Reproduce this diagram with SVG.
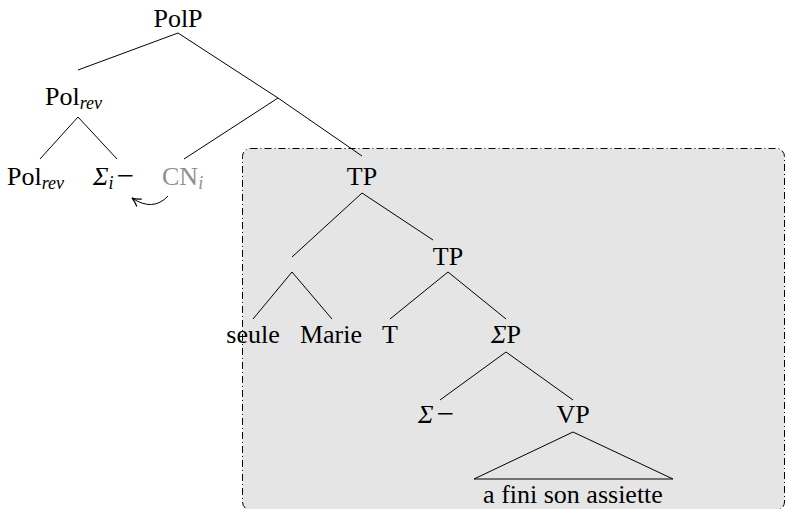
<svg xmlns="http://www.w3.org/2000/svg" width="787" height="509" viewBox="0 0 787 509">
<style>
.t{font-family:'Liberation Serif','Times New Roman',serif;font-size:26px;fill:#000}
.m{text-anchor:middle}
.it{font-style:italic}
.sub{font-size:18px;font-style:italic}
.mn{font-size:31px}
.gray{fill:#8f8f8f}
.ln{stroke:#000;stroke-width:1;fill:none}
</style>
<defs>
<marker id="ah" viewBox="0 0 10 10" refX="9" refY="5" markerWidth="11" markerHeight="11" orient="auto-start-reverse" markerUnits="userSpaceOnUse">
<path d="M1,1 Q6,4.3 9,5 Q6,5.7 1,9" fill="none" stroke="#000" stroke-width="1.1"/>
</marker>
</defs>
<rect id="box" x="242.5" y="148.5" width="542" height="361.5" rx="8" fill="#e5e5e5" stroke="#000" stroke-width="1" stroke-dasharray="7 3 1 3"/>
<g id="connectors" class="ln">
<line x1="178" y1="33" x2="78" y2="70"/>
<line x1="178" y1="33" x2="278" y2="98"/>
<line x1="78" y1="117" x2="40" y2="159"/>
<line x1="78" y1="117" x2="117" y2="159"/>
<line x1="278" y1="98" x2="184" y2="159"/>
<line x1="278" y1="98" x2="362" y2="156"/>
<line x1="362" y1="193" x2="292" y2="257"/>
<line x1="362" y1="193" x2="433" y2="240"/>
<line x1="292" y1="272" x2="253" y2="319"/>
<line x1="292" y1="272" x2="332" y2="319"/>
<line x1="448" y1="272" x2="390" y2="319"/>
<line x1="448" y1="272" x2="506" y2="319"/>
<line x1="506" y1="352" x2="440" y2="400"/>
<line x1="506" y1="352" x2="573" y2="400"/>
<polygon points="573,432 474,479 673,479"/>
<path d="M168,196 Q153,212 132,198" marker-end="url(#ah)"/>
</g>
<g id="PolP"><text class="t m" x="178" y="27">PolP</text></g>
<g id="Polrev1"><text class="t" x="45" y="105">Pol<tspan class="sub" dy="4">rev</tspan></text></g>
<g id="Polrev2"><text class="t" x="7" y="185">Pol<tspan class="sub" dy="4">rev</tspan></text></g>
<g id="Sigma_i"><text class="t" x="93" y="185"><tspan class="it">Σ</tspan><tspan class="sub" dy="4">i</tspan><tspan class="mn" dy="-3" dx="3">−</tspan></text></g>
<g id="CN_i"><text class="t gray" x="162" y="185">CN<tspan class="sub" dy="4">i</tspan></text></g>
<g id="TP1"><text class="t m" x="362" y="185">TP</text></g>
<g id="TP2"><text class="t m" x="448" y="265">TP</text></g>
<g id="seule"><text class="t m" x="253" y="343">seule</text></g>
<g id="Marie"><text class="t m" x="331" y="343">Marie</text></g>
<g id="T"><text class="t m" x="390" y="343">T</text></g>
<g id="SigmaP"><text class="t m" x="506" y="343"><tspan class="it">Σ</tspan>P</text></g>
<g id="Sigma_minus"><text class="t" x="418" y="423"><tspan class="it">Σ</tspan><tspan class="mn" dx="3" dy="1">−</tspan></text></g>
<g id="VP"><text class="t m" x="573" y="423">VP</text></g>
<g id="afini"><text class="t m" x="573" y="503">a fini son assiette</text></g>
</svg>
